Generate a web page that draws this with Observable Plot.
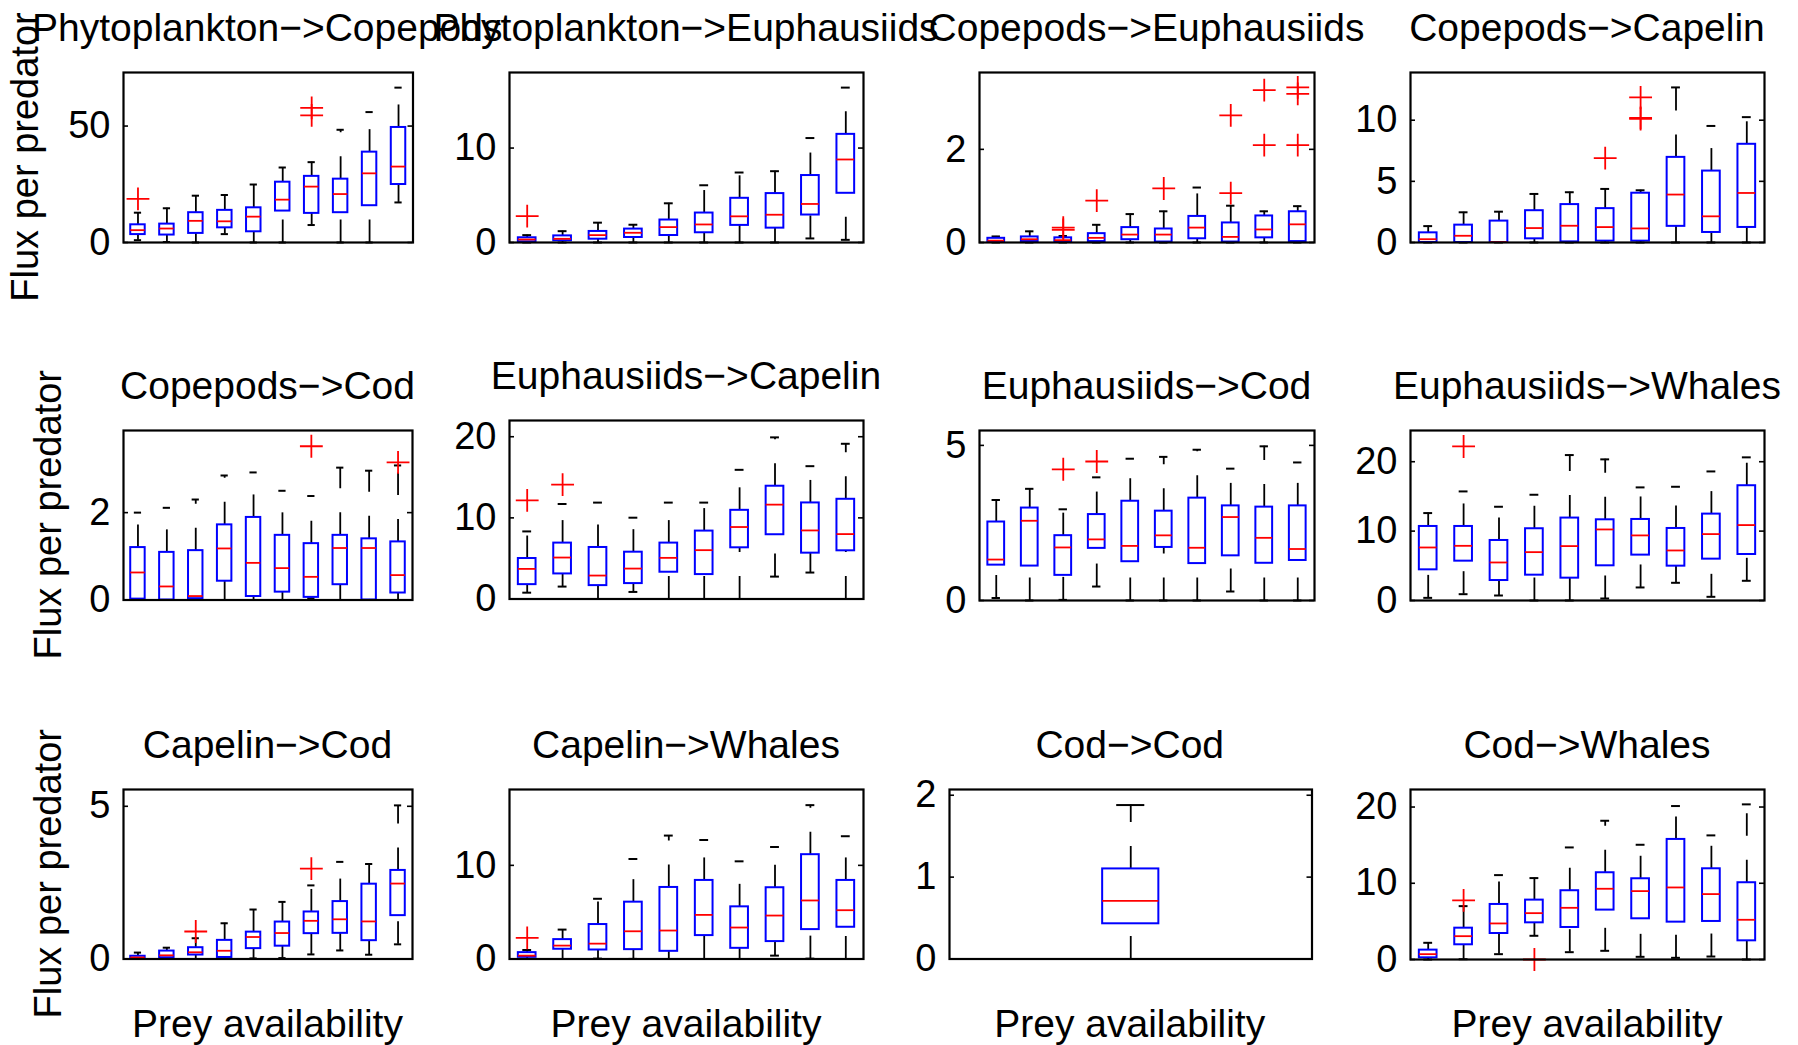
<!DOCTYPE html>
<html><head><meta charset="utf-8">
<script src="https://cdn.jsdelivr.net/npm/d3@7"></script>
<script src="https://cdn.jsdelivr.net/npm/@observablehq/plot@0.6"></script>
<style>
body{margin:0;background:#fff;}
#fig{position:relative;width:1798px;height:1045px;overflow:hidden;background:#fff;font-family:"Liberation Sans",Arial,Helvetica,sans-serif;}
#fig svg{overflow:visible;}
</style></head><body><div id="fig"></div>
<script>
// ---------- data ----------
const titles = ["Phytoplankton−>Copepods","Phytoplankton−>Euphausiids","Copepods−>Euphausiids","Copepods−>Capelin",
  "Copepods−>Cod","Euphausiids−>Capelin","Euphausiids−>Cod","Euphausiids−>Whales",
  "Capelin−>Cod","Capelin−>Whales","Cod−>Cod","Cod−>Whales"];
const yLabel = "Flux per predator";
const xLabel = "Prey availability";
const yMax = [73, 18, 3.65, 13.9, 3.88, 22, 5.48, 24.5, 5.55, 18.1, 2.07, 22.3];
const yTicks = [[0,50],[0,10],[0,2],[0,5,10],[0,2],[0,10,20],[0,5],[0,10,20],[0,5],[0,10],[0,1,2],[0,10,20]];

const whiskerLow = [
  [1.0,0.2,0,3.6,0,0,7.5,0,0,17.2],
  [0,0,0,0,0,0,0,0,0.43,0.28],
  [0,0,0,0,0,0,0,0,0,0],
  [0,0,0,0,0,0,0,0,0,0],
  [0,0,0,0,0,0,0.04,0,0,0],
  [0.78,1.53,0,0.87,0,0,0,2.76,3.26,0],
  [0.08,0,0.02,0.45,0,0,0,0.29,0,0],
  [0.38,0.91,0.72,0,0,0.29,1.88,2.55,0.53,2.84],
  [0,0,0,0,0.02,0.03,0.15,0.28,0.14,0.48],
  [0,0,0.04,0.01,0,0,0,0.36,0.04,0],
  [0],
  [0,0.04,0.7,3.11,0.96,1.14,0.35,0.22,0.39,0]
];
const quartile1 = [
  [3.4,3.2,3.9,6.3,4.6,13.5,12.5,12.8,15.8,24.9],
  [0.07,0.18,0.35,0.53,0.74,1.03,1.81,1.52,2.91,5.21],
  [0.01,0.02,0.01,0.02,0.06,0.01,0.08,0.01,0.1,0.02],
  [0,0,0,0.3,0.05,0.11,0.11,1.32,0.82,1.23],
  [0.02,0,0.03,0.43,0.08,0.18,0.06,0.35,0,0.16],
  [1.77,3.09,1.65,1.9,3.3,3.01,6.31,7.92,5.65,5.94],
  [1.14,1.11,0.81,1.68,1.25,1.71,1.19,1.44,1.2,1.29],
  [4.42,5.67,2.88,3.65,3.22,5.0,6.54,4.95,5.96,6.63],
  [0.01,0.04,0.13,0.05,0.34,0.42,0.83,0.84,0.6,1.42],
  [0.18,1.04,0.96,1.0,0.82,2.5,1.14,1.86,3.14,3.39],
  [0.43],
  [0.22,1.93,3.41,4.81,4.2,6.48,5.34,4.9,4.99,2.45]
];
const median = [
  [5.3,6.0,9.3,9.1,11.1,18.4,24.0,20.8,29.7,32.6],
  [0.32,0.39,0.78,1.03,1.63,1.91,2.77,2.94,4.08,8.79],
  [0.04,0.07,0.05,0.1,0.17,0.17,0.32,0.12,0.28,0.39],
  [0.27,0.55,0.03,1.18,1.37,1.26,1.15,3.92,2.14,4.05],
  [0.63,0.31,0.09,1.18,0.85,0.73,0.53,1.19,1.19,0.57],
  [3.71,5.11,2.89,3.75,5.07,6.02,8.87,11.63,8.45,8.0],
  [1.32,2.57,1.71,1.97,1.76,2.1,1.7,2.69,2.02,1.66],
  [7.64,7.88,5.48,6.97,7.84,10.24,9.38,7.21,9.57,10.87],
  [0.05,0.12,0.22,0.27,0.72,0.85,1.25,1.3,1.23,2.47],
  [0.36,1.43,1.64,2.96,3.04,4.71,3.36,4.64,6.25,5.21],
  [0.71],
  [0.7,3.06,4.73,6.08,6.78,9.28,8.97,9.45,8.58,5.21]
];
const quartile3 = [
  [7.6,7.9,12.8,13.8,14.9,25.9,28.4,27.2,38.8,49.4],
  [0.5,0.7,1.17,1.42,2.38,3.12,4.68,5.18,7.09,11.45],
  [0.09,0.12,0.1,0.19,0.32,0.29,0.56,0.42,0.57,0.66],
  [0.79,1.42,1.75,2.6,3.1,2.77,4.03,6.96,5.84,8.03],
  [1.2,1.09,1.13,1.72,1.89,1.48,1.29,1.48,1.4,1.33],
  [4.99,6.89,6.35,5.77,6.89,8.37,10.93,13.9,11.84,12.29],
  [2.53,2.98,2.09,2.77,3.2,2.88,3.3,3.05,3.01,3.05],
  [10.67,10.67,8.65,10.34,11.88,11.63,11.68,10.38,12.45,16.54],
  [0.09,0.26,0.37,0.61,0.88,1.21,1.54,1.88,2.45,2.9],
  [0.68,2.07,3.68,6.07,7.64,8.39,5.57,7.61,11.14,8.39],
  [1.1],
  [1.23,4.11,7.22,7.79,9.02,11.38,10.59,15.75,11.9,10.07]
];
const whiskerHigh = [
  [12.8,14.7,20.1,20.4,24.9,32.2,34.5,48.4,56.0,66.5],
  [0.78,1.2,2.1,1.88,4.15,6.06,7.41,7.55,11.06,16.4],
  [0.13,0.24,0.14,0.38,0.61,0.67,1.18,0.79,0.67,0.78],
  [1.34,2.47,2.52,3.97,4.11,4.38,4.27,12.68,9.53,10.25],
  [2.0,2.11,2.3,2.85,2.92,2.5,2.38,3.03,2.96,3.08],
  [8.33,11.71,11.88,10.02,11.88,11.88,15.92,19.92,16.37,19.13],
  [3.24,3.6,2.94,3.97,4.57,4.63,4.86,4.25,4.97,4.45],
  [12.6,15.72,13.51,15.24,20.96,20.34,16.3,16.39,18.6,20.63],
  [0.21,0.37,0.68,1.17,1.62,1.87,2.41,3.18,3.11,5.03],
  [0.96,3.14,6.43,10.68,13.18,12.71,10.43,11.96,16.43,13.11],
  [1.88],
  [2.19,7.0,11.07,10.68,14.7,18.2,15.05,20.13,16.28,20.35]
];
// outliers: [group, value]
const outliers = [
  [[1,18.7],[7,57.8],[7,54.6]],
  [[1,2.8]],
  [[3,0.32],[3,0.27],[4,0.9],[6,1.16],[8,2.73],[8,1.06],[9,3.27],[9,2.09],[10,3.33],[10,3.19],[10,2.09]],
  [[6,6.9],[7,11.86],[7,10.19],[7,10.1]],
  [[7,3.52],[10,3.15]],
  [[1,12.16],[2,14.1]],
  [[3,4.23],[4,4.48]],
  [[2,22.2]],
  [[3,0.9],[7,2.96]],
  [[1,2.25]],
  [],
  [[2,7.75],[4,0]]
];

// ---------- layout ----------
const panelLeft   = [122.5,509,979,1410, 123,509,979,1410, 123,509,948.5,1410];
const panelRight  = [412,863,1314,1764, 412,863,1314,1764, 412,863,1311,1764];
const panelTop    = [72,72,72,72, 430,420,430,430, 789,789,789,788.5];
const panelBottom = [242,242,242,242, 599.5,598.5,600,600, 958.5,958.5,958.5,958.5];
const boxWidth    = [0.5,0.5,0.5,0.5,0.5,0.5,0.5,0.5,0.5,0.5,0.155,0.5];

const FONT = '"Liberation Sans", Arial, Helvetica, sans-serif';
const FS = 38;
const FS_LABEL = 39;
const fig = document.getElementById("fig");
const mL = 90, mR = 20, mT = 30, mB = 30;

titles.forEach((t, k) => {
  const w = panelRight[k] - panelLeft[k];
  const h = panelBottom[k] - panelTop[k];
  const n = median[k].length;
  const xd = [0.5, n + 0.5];
  const pxu = w / n;
  const bw = boxWidth[k];
  const boxes = d3.range(n).map(i => ({
    x: i + 1, lo: whiskerLow[k][i], q1: quartile1[k][i], med: median[k][i],
    q3: quartile3[k][i], hi: whiskerHigh[k][i]
  }));
  const outl = outliers[k].map(([g, v]) => ({x: g, y: v}));
  const tl = 5 / pxu;
  const chart = Plot.plot({
    width: w + mL + mR, height: h + mT + mB,
    marginLeft: mL, marginRight: mR, marginTop: mT, marginBottom: mB,
    x: {type: "linear", domain: xd, axis: null},
    y: {type: "linear", domain: [0, yMax[k]]},
    style: {fontSize: FS + "px", fontFamily: FONT, background: "transparent", overflow: "visible", color: "#000"},
    marks: [
      Plot.axisY({ticks: yTicks[k], tickFormat: d => String(d), tickSize: 0, tickPadding: 13, label: null, fontSize: FS, fill: "#000"}),
      Plot.ruleY(yTicks[k], {y: d => d, x1: xd[0], x2: xd[0] + tl, stroke: "#000", strokeWidth: 1.6}),
      Plot.ruleY(yTicks[k], {y: d => d, x1: xd[1] - tl, x2: xd[1], stroke: "#000", strokeWidth: 1.6}),
      Plot.ruleX(boxes, {x: "x", y1: "q3", y2: "hi", stroke: "#000", strokeWidth: 1.8, strokeDasharray: "22.5,24"}),
      Plot.ruleX(boxes, {x: "x", y1: "lo", y2: "q1", stroke: "#000", strokeWidth: 1.8, strokeDasharray: "22.5,24"}),
      Plot.ruleY(boxes, {y: "hi", x1: d => d.x - bw / 4, x2: d => d.x + bw / 4, stroke: "#000", strokeWidth: 2}),
      Plot.ruleY(boxes, {y: "lo", x1: d => d.x - bw / 4, x2: d => d.x + bw / 4, stroke: "#000", strokeWidth: 2}),
      Plot.rect(boxes, {x1: d => d.x - bw / 2, x2: d => d.x + bw / 2, y1: "q1", y2: "q3", fill: "none", stroke: "#0000ff", strokeWidth: 2}),
      Plot.ruleY(boxes, {y: "med", x1: d => d.x - bw / 2, x2: d => d.x + bw / 2, stroke: "#ff0000", strokeWidth: 1.8}),
      Plot.dot(outl, {x: "x", y: "y", symbol: "plus", r: 7.4, stroke: "#ff0000", strokeWidth: 1.8}),
      Plot.frame({stroke: "#000", strokeWidth: 2.2})
    ]
  });
  chart.style.position = "absolute";
  chart.style.left = (panelLeft[k] - mL) + "px";
  chart.style.top = (panelTop[k] - mT) + "px";
  chart.style.maxWidth = "none";
  fig.appendChild(chart);
});

// ---------- text overlay ----------
const svg = d3.select(fig).append("svg")
  .attr("width", 1798).attr("height", 1045)
  .style("position", "absolute").style("left", 0).style("top", 0)
  .style("pointer-events", "none")
  .attr("font-family", FONT).attr("font-size", FS_LABEL).attr("fill", "#000");

titles.forEach((t, k) => {
  svg.append("text")
    .attr("x", (panelLeft[k] + panelRight[k]) / 2)
    .attr("y", panelTop[k] - 31)
    .attr("text-anchor", "middle")
    .text(t);
});
[0, 4, 8].forEach((k, r) => {
  const cx = r === 0 ? 38 : 61;
  const cy = (panelTop[k] + panelBottom[k]) / 2;
  svg.append("text")
    .attr("transform", `translate(${cx},${cy}) rotate(-90)`)
    .attr("text-anchor", "middle")
    .attr("font-size", FS)
    .text(yLabel);
});
[8, 9, 10, 11].forEach(k => {
  svg.append("text")
    .attr("x", (panelLeft[k] + panelRight[k]) / 2)
    .attr("y", 1037)
    .attr("text-anchor", "middle")
    .text(xLabel);
});
</script></body></html>
